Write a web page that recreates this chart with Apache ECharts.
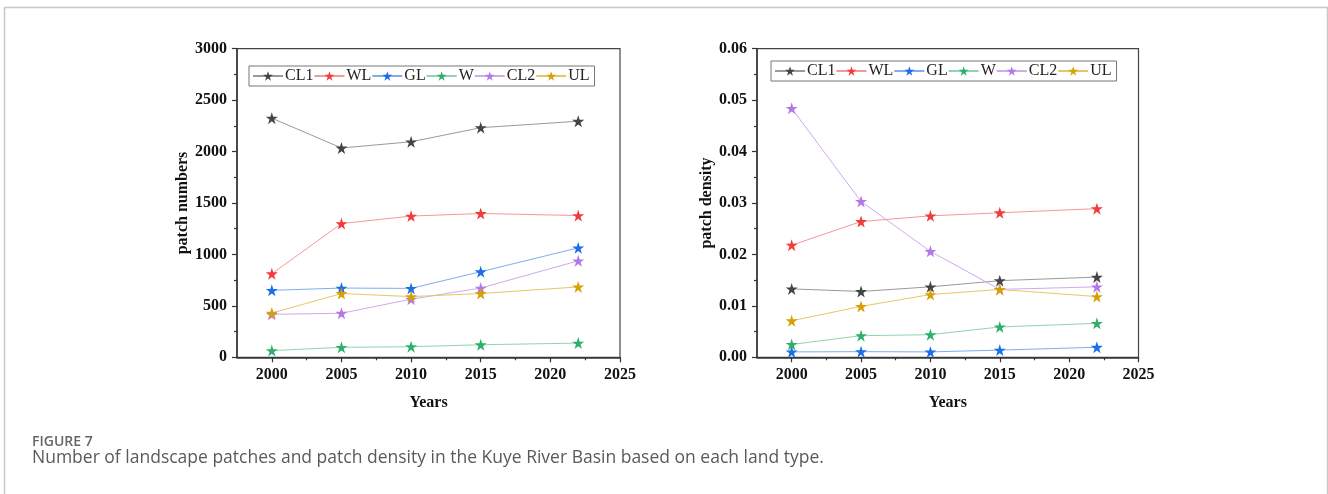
<!DOCTYPE html>
<html>
<head>
<meta charset="utf-8">
<script src="https://cdn.jsdelivr.net/npm/echarts@6/dist/echarts.min.js"></script>
<style>
html,body{margin:0;padding:0;background:#fff;}
#c{width:1328px;height:494px;}
</style>
</head>
<body>
<div id="c"></div>
<script>
// ---- data ----
const years = [2000, 2005, 2010, 2015, 2022];
const seriesNames = ['CL1', 'WL', 'GL', 'W', 'CL2', 'UL'];
// patch numbers (left panel)
const pnCL1 = [2325, 2035, 2095, 2232, 2295];
const pnWL  = [812, 1300, 1373, 1398, 1378];
const pnGL  = [651, 673, 670, 832, 1064];
const pnW   = [65, 97, 103, 122, 138];
const pnCL2 = [418, 428, 565, 673, 938];
const pnUL  = [430, 620, 590, 620, 684];
// patch density (right panel)
const pdCL1 = [0.0133, 0.0128, 0.0137, 0.0149, 0.0156];
const pdWL  = [0.0218, 0.0264, 0.0275, 0.0281, 0.0289];
const pdGL  = [0.00105, 0.0011, 0.00105, 0.0014, 0.00195];
const pdW   = [0.0025, 0.0042, 0.0044, 0.0059, 0.0066];
const pdCL2 = [0.0484, 0.0303, 0.0206, 0.0132, 0.0137];
const pdUL  = [0.0071, 0.0099, 0.0122, 0.0132, 0.0118];
// tick values
const xMajorTicks = [2000, 2005, 2010, 2015, 2020, 2025];
const xMinorTicks = [2002.5, 2007.5, 2012.5, 2017.5, 2022.5];

const pnData = [pnCL1, pnWL, pnGL, pnW, pnCL2, pnUL];
const pdData = [pdCL1, pdWL, pdGL, pdW, pdCL2, pdUL];

const symColors  = ['#444444', '#f23b3b', '#1a6fe8', '#2db06a', '#b477e6', '#d6a106'];
const lineColors = ['#9a9a9a', '#f29a9a', '#80aeea', '#8fd6ae', '#cfaaee', '#e6c766'];

const star = 'path://M50 0 L61.23 34.55 L97.55 34.55 L68.17 55.9 L79.39 90.45 L50 69.1 L20.61 90.45 L31.83 55.9 L2.45 34.55 L38.77 34.55 Z';

const serif = '"Liberation Serif", "Times New Roman", serif';
const axisColor = '#333';

function makeSeries(data, xIdx, yIdx) {
  return seriesNames.map((n, i) => ({
    name: n,
    type: 'line',
    xAxisIndex: xIdx,
    yAxisIndex: yIdx,
    data: years.map((y, k) => [y, data[i][k]]),
    symbol: star,
    symbolSize: 12,
    showSymbol: true,
    lineStyle: { color: lineColors[i], width: 1 },
    itemStyle: { color: symColors[i] },
    emphasis: { disabled: true },
    z: 3
  }));
}

function xMain(gridIndex) {
  return {
    type: 'value', gridIndex: gridIndex,
    min: 1997.5, max: 2025, interval: 2.5,
    position: 'bottom',
    name: 'Years', nameLocation: 'middle', nameGap: 38,
    nameTextStyle: { fontFamily: serif, fontWeight: 'bold', fontSize: 16, color: '#111' },
    axisLine: { show: true, onZero: false, lineStyle: { color: axisColor, width: 1.5 } },
    axisTick: { show: true, inside: false, length: 5, customValues: xMajorTicks, lineStyle: { color: axisColor, width: 1.2 } },
    axisLabel: { show: true, customValues: xMajorTicks, margin: 10,
      fontFamily: serif, fontWeight: 'bold', fontSize: 16, color: '#111',
      formatter: v => String(Math.round(v)) },
    splitLine: { show: false }
  };
}
function xMinor(gridIndex) {
  return {
    type: 'value', gridIndex: gridIndex,
    min: 1997.5, max: 2025, interval: 2.5,
    position: 'bottom',
    axisLine: { show: false, onZero: false },
    axisTick: { show: true, inside: false, length: 3, customValues: xMinorTicks, lineStyle: { color: axisColor, width: 1.2 } },
    axisLabel: { show: false },
    splitLine: { show: false }
  };
}
function yAxis(gridIndex, max, interval, name, fmt) {
  return {
    type: 'value', gridIndex: gridIndex,
    min: 0, max: max, interval: interval,
    name: name, nameLocation: 'middle', nameGap: 42,
    nameTextStyle: { fontFamily: serif, fontWeight: 'bold', fontSize: 16, color: '#111' },
    axisLine: { show: true, lineStyle: { color: axisColor, width: 1.5 } },
    axisTick: { show: true, inside: false, length: 5, lineStyle: { color: axisColor, width: 1.2 } },
    minorTick: { show: true, splitNumber: 2, length: 3, lineStyle: { color: axisColor, width: 1.2 } },
    axisLabel: { margin: 10, fontFamily: serif, fontWeight: 'bold', fontSize: 16, color: '#111', formatter: fmt },
    splitLine: { show: false },
    minorSplitLine: { show: false }
  };
}
function legend(left, top) {
  return {
    left: left, top: top,
    orient: 'horizontal',
    data: seriesNames,
    itemWidth: 30, itemHeight: 12, itemGap: 0,
    padding: [2, 5, 2, 3],
    borderColor: '#777', borderWidth: 1,
    backgroundColor: '#fff',
    selectedMode: false,
    textStyle: { fontFamily: serif, fontSize: 16, color: '#222', padding: [0, 0, 0, -3] }
  };
}

const chart = echarts.init(document.getElementById('c'), null, { renderer: 'canvas' });
chart.setOption({
  animation: false,
  backgroundColor: '#fff',
  grid: [
    { left: 237, top: 48.7, width: 383, height: 308.6, show: true, borderColor: '#444', borderWidth: 1.2, backgroundColor: 'transparent' },
    { left: 757, top: 48.7, width: 381.5, height: 308.6, show: true, borderColor: '#444', borderWidth: 1.2, backgroundColor: 'transparent' }
  ],
  xAxis: [xMain(0), xMinor(0), xMain(1), xMinor(1)],
  yAxis: [
    yAxis(0, 3000, 500, 'patch numbers', v => String(v)),
    yAxis(1, 0.06, 0.01, 'patch density', v => v.toFixed(2))
  ],
  legend: [legend(249, 66), legend(771, 61)],
  series: [].concat(makeSeries(pnData, 0, 0), makeSeries(pdData, 2, 1)),
  graphic: [
    { type: 'polyline', silent: true, shape: { points: [[4.5, 494], [4.5, 7.5], [1327.5, 7.5], [1327.5, 494]] },
      style: { stroke: '#c8c8c8', lineWidth: 1.5, fill: null } },
    { type: 'text', silent: true, style: { x: 32, y: 442, text: 'FIGURE 7', fill: '#666',
      font: '600 14px "Open Sans", "Noto Sans", sans-serif', textVerticalAlign: 'middle' } },
    { type: 'text', silent: true, style: { x: 32, y: 458, text: 'Number of landscape patches and patch density in the Kuye River Basin based on each land type.',
      fill: '#5a5a5a', font: '17.5px "Open Sans", "Noto Sans", sans-serif', textVerticalAlign: 'middle' } }
  ]
});
</script>
</body>
</html>
